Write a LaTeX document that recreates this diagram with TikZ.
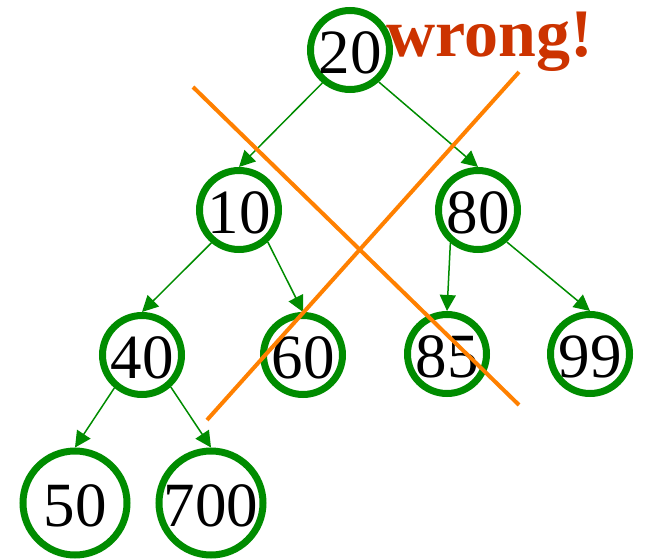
\documentclass[tikz,border=0pt]{standalone}
\usepackage{fontspec}
\setmainfont{Liberation Serif}
\usepackage{xcolor}
\usepackage{tikz}
\usetikzlibrary{arrows.meta}
\definecolor{heapgreen}{HTML}{008C00}
\definecolor{strikeorange}{HTML}{FF8000}
\definecolor{wrongred}{HTML}{CC3300}
\newcommand{\hkey}[1]{\makebox[0pt]{\raisebox{-3pt}[\height][0pt]{#1}}}

\begin{document}
\begin{tikzpicture}[x=1pt, y=-1pt,
    heap/.style={circle, draw=heapgreen, line width=7pt, minimum size=79pt,
                 inner sep=0pt, font=\fontsize{63}{63}\selectfont},
    bigheap/.style={heap, minimum size=104pt},
    link/.style={draw=heapgreen, line width=1.5pt, -{Triangle[length=16pt, width=16pt]}},
    strike/.style={draw=strikeorange, line width=4pt}]
  \useasboundingbox (0,0) rectangle (645,559);

  % the heap
  \node[heap] (n20) at (350,50) {\hkey{20}};
  \node[heap] (n10) at (239,210) {\hkey{10}};
  \node[heap] (n80) at (478,210) {\hkey{80}};
  \node[heap] (n40) at (142,355) {\hkey{40}};
  \node[heap] (n60) at (303,355) {\hkey{60}};
  \node[heap] (n85) at (447,354) {\hkey{85}};
  \node[heap] (n99) at (590,354) {\hkey{99}};
  \node[bigheap] (n50) at (75,503) {\hkey{50}};
  \node[bigheap] (n700) at (211,503) {\hkey{700}};

  \draw[link] (n20.230) -- (n10.north);
  \draw[link] (n20.312) -- (n80.north);
  \draw[link] (n10.230) -- (n40.north);
  \draw[link] (n10.312) -- (n60.north);
  \draw[link] (n80.230) -- (n85.north);
  \draw[link] (n80.312) -- (n99.north);
  \draw[link] (n40.230) -- (n50.north);
  \draw[link] (n40.312) -- (n700.north);

  % crossed out
  \draw[strike] (193,87) -- (519,405);
  \draw[strike] (519,72) -- (207,420);
  \node[anchor=base west, inner sep=0pt, text=wrongred,
        font=\fontsize{68}{68}\selectfont\bfseries] (wrong) at (386,57) {wrong!};
\end{tikzpicture}
\end{document}
